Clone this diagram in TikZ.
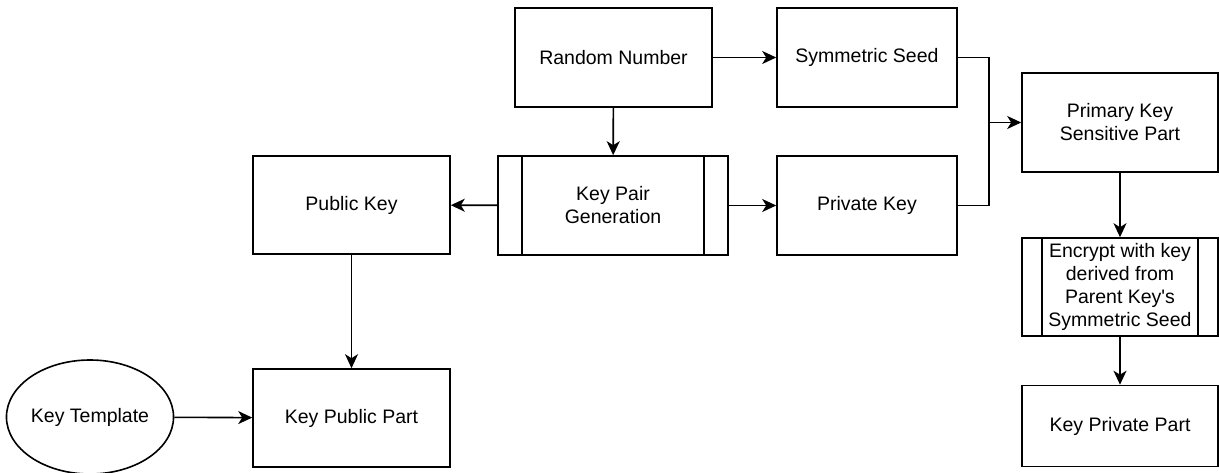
\documentclass[tikz,border=0pt]{standalone}
\usepackage{fontspec}
\setmainfont{Liberation Sans}
\usepackage{xcolor}
\usepackage{tikz}
\usetikzlibrary{arrows.meta,shapes.geometric}
\definecolor{linec}{HTML}{000000}
\tikzset{
  ar/.style={-{Stealth[length=14pt,width=13pt,inset=4pt]},line width=1.6pt,linec},
  ln/.style={line width=1.6pt,linec},
  box/.style={draw=linec,line width=1.6pt,align=center,inner sep=4pt,font=\fontsize{19.5}{23}\selectfont},
  proc/.style={box,path picture={\draw[line width=1.6pt,linec]
    ([xshift=#1]path picture bounding box.north west) -- ([xshift=#1]path picture bounding box.south west)
    ([xshift=-#1]path picture bounding box.north east) -- ([xshift=-#1]path picture bounding box.south east);}},
  oval/.style={box,ellipse,inner sep=0pt}
}

\begin{document}
\begin{tikzpicture}[x=1pt,y=-1pt]
\useasboundingbox (0,0) rectangle (1219,473);
% upper row
\node[box,minimum width=197pt,minimum height=99pt] (rn) at (613.5,57.5) {Random Number};
\node[box,minimum width=180pt,minimum height=99pt] (seed) at (867,57.5) {Symmetric Seed};
\node[proc=24pt,minimum width=230pt,minimum height=99pt] (kpg) at (613,205.5) {Key Pair\\Generation};
\node[box,minimum width=180pt,minimum height=99pt] (priv) at (867,205.5) {Private Key};
\node[box,minimum width=197pt,minimum height=98pt] (pub) at (351.5,205) {Public Key};
% right column
\node[box,minimum width=196pt,minimum height=99pt] (prim) at (1120,122.5) {Primary Key\\Sensitive Part};
\node[proc=20pt,minimum width=196pt,minimum height=98pt] (enc) at (1120,287) {Encrypt with key\\derived from\\Parent Key\textquotesingle s\\Symmetric Seed};
\node[box,minimum width=196pt,minimum height=81pt] (kpriv) at (1120,426) {Key Private Part};
% lower left
\node[box,minimum width=197pt,minimum height=98pt] (kpub) at (351.5,418) {Key Public Part};
\node[oval,minimum width=164pt,minimum height=114pt] (tmpl) at (90,417) {Key Template};
\coordinate (jn) at (989,122.5);

\draw[ar] (rn) -- (seed);
\draw[ar] (rn) -- (kpg);
\draw[ar] (kpg) -- (pub);
\draw[ar] (kpg) -- (priv);
\draw[ln] (seed.east) -| (jn);
\draw[ln] (priv.east) -| (jn);
\draw[ar] (jn) -- (prim.west);
\draw[ar] (prim) -- (enc);
\draw[ar] (enc) -- (kpriv);
\draw[ar] (pub) -- (kpub);
\draw[ar] (tmpl) -- (kpub);
\end{tikzpicture}
\end{document}
